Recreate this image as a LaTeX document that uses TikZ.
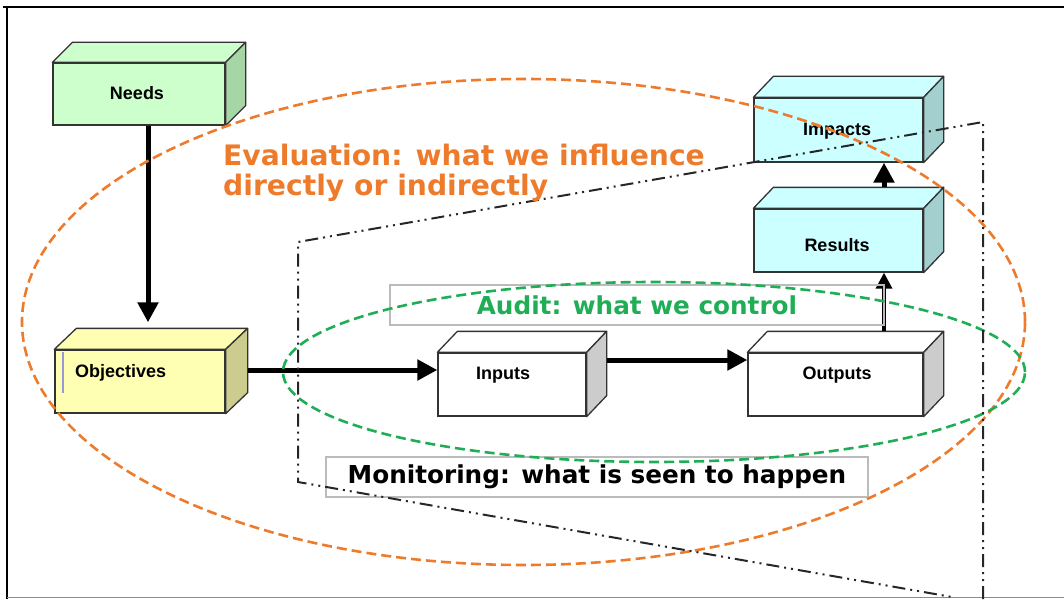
\documentclass[tikz,border=0pt]{standalone}
\usepackage{fontspec}
\setmainfont{Liberation Sans}
\newfontfamily\verd{DejaVu Sans}
\usetikzlibrary{arrows.meta,calc}
\definecolor{needsF}{HTML}{CCFFCC}
\definecolor{needsS}{HTML}{A6D6A6}
\definecolor{objF}{HTML}{FFFFB3}
\definecolor{objS}{HTML}{CCCC8F}
\definecolor{cyF}{HTML}{CCFFFF}
\definecolor{cyS}{HTML}{A3CFCF}
\definecolor{grS}{HTML}{CCCCCC}
\definecolor{evalOr}{HTML}{EE7B2C}
\definecolor{audGr}{HTML}{1FAE55}
\definecolor{edgeC}{HTML}{333333}
\definecolor{boxGr}{HTML}{BBBBBB}
\tikzset{
  front/.style={draw=edgeC, line width=1.3pt, inner sep=0pt},
  face/.style={draw=edgeC, line width=1.3pt, line join=round},
  lbl/.style={font=\bfseries\fontsize{18}{20}\selectfont, inner sep=0pt},
  bigarrow/.style={line width=5pt, -{Triangle[length=20pt,width=20pt]}},
  midarrow/.style={line width=3.5pt, -{Triangle[length=16pt,width=16pt]}},
  orangedash/.style={draw=evalOr, line width=2.6pt, dash pattern=on 10pt off 5pt},
  greendash/.style={draw=audGr, line width=2.6pt, dash pattern=on 10pt off 5pt},
  dashdotdot/.style={draw=black!85, line width=2pt, dash pattern=on 13pt off 5pt on 2pt off 5pt on 2pt off 5pt},
  txtbox/.style={draw=boxGr, line width=1.5pt, inner sep=0pt},
}
\newcommand\cubefaces[5]{%
  \draw[face, fill=#4] (#1.north west) -- ++(#2,-#3) -- ($(#1.north east)+(#2,-#3)$) -- (#1.north east) -- cycle;
  \draw[face, fill=#5] (#1.north east) -- ++(#2,-#3) -- ($(#1.south east)+(#2,-#3)$) -- (#1.south east) -- cycle;
}
\begin{document}
\begin{tikzpicture}[x=1pt,y=-1pt]
\useasboundingbox (0,0) rectangle (1064,599);
% frame
\draw[line width=1.4pt] (3,7) -- (1064,7);
\draw[line width=1.4pt] (7,7) -- (7,599);
\draw[line width=1.4pt, draw=black!45] (7,597.5) -- (1064,597.5);

% boxes
\node[front, fill=needsF, minimum width=172pt, minimum height=62pt] (needs) at (139,94) {};
\cubefaces{needs}{20}{20}{needsF}{needsS}
\node[front, fill=objF, minimum width=170pt, minimum height=63pt] (obj) at (140,381.5) {};
\cubefaces{obj}{22}{21}{objF}{objS}
\node[front, fill=white, minimum width=148pt, minimum height=63pt] (inp) at (512,384.5) {};
\cubefaces{inp}{20}{21}{white}{grS}
\node[front, fill=white, minimum width=175pt, minimum height=63pt] (out) at (835.5,384.5) {};
\cubefaces{out}{20}{21}{white}{grS}
\node[front, fill=cyF, minimum width=169pt, minimum height=64pt] (imp) at (838.5,130) {};
\cubefaces{imp}{20}{21}{cyF}{cyS}
\node[front, fill=cyF, minimum width=169pt, minimum height=63pt] (res) at (838.5,240.5) {};
\cubefaces{res}{20}{21}{cyF}{cyS}
\draw[draw=black!40!blue!40, line width=1.2pt] (63,352) -- (63,393);

% labels
\node[lbl] (needsT) at (137,93) {Needs};
\node[lbl, anchor=west] (objT) at (75,373) {Objectives};
\node[lbl] (inpT) at (503,375) {Inputs};
\node[lbl] (outT) at (837,375) {Outputs};
\node[lbl] (impT) at (837,131) {Impacts};
\node[lbl] (resT) at (837,245) {Results};

% arrows
\draw[bigarrow] ([xshift=9pt]needs.south) -- ([xshift=8pt,yshift=27pt]obj.north);
\draw[bigarrow] ([xshift=22pt,yshift=11.5pt]obj.east) -- ([yshift=14.5pt]inp.west);
\draw[bigarrow] ([xshift=20pt,yshift=24.5pt]inp.east) -- ([yshift=24.5pt]out.west);
\draw[midarrow] ([xshift=48.5pt,yshift=21pt]out.north) -- ([xshift=45.5pt]res.south);
\draw[bigarrow] ([xshift=45.5pt,yshift=21pt]res.north) -- ([xshift=45.5pt]imp.south);

% text boxes
\node[txtbox, minimum width=494pt, minimum height=40pt] (audit) at (637,305)
  {\verd\bfseries\color{audGr}\fontsize{24.7}{26}\selectfont Audit: what we control};
\node[txtbox, minimum width=542pt, minimum height=40pt] (monit) at (597,477)
  {\verd\bfseries\fontsize{24.7}{26}\selectfont Monitoring: what is seen to happen};

% ellipses
\draw[orangedash] (523.5,322) ellipse [x radius=501.5pt, y radius=243pt];
\draw[greendash] (654,372) ellipse [x radius=371pt, y radius=90pt];

% dash-dot outline
\coordinate (d1) at (983,599);
\coordinate (d2) at (983,122);
\coordinate (d3) at (298,242);
\coordinate (d4) at (298,482);
\coordinate (d5) at (952,597);
\draw[dashdotdot] (d1) -- (d2) -- (d3) -- (d4) -- (d5);

% evaluation text
\node[anchor=north west, align=left, inner sep=0pt, text=evalOr,
      font=\verd\bfseries\fontsize{28.2}{29.5}\selectfont] (evalT) at (223,144)
  {Evaluation: what we influence\\directly or indirectly};
\end{tikzpicture}
\end{document}
